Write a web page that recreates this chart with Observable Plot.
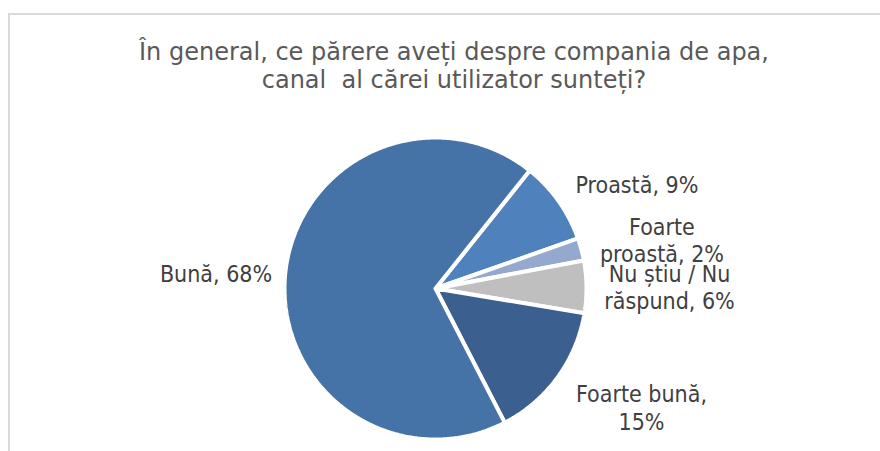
<!DOCTYPE html>
<html>
<head>
<meta charset="utf-8">
<script src="https://cdn.jsdelivr.net/npm/d3@7"></script>
<script src="https://cdn.jsdelivr.net/npm/@observablehq/plot@0.6"></script>
<style>
  html, body { margin: 0; padding: 0; background: #fff; }
  #wrap { position: relative; width: 880px; height: 451px; overflow: hidden; }
  #frame { position: absolute; left: 8px; top: 13px; width: 1000px; height: 1000px;
           border-left: 2px solid #d9d9d9; border-top: 2px solid #d9d9d9; box-sizing: border-box; }
  #title { position: absolute; left: 0; top: 38px; width: 908px; text-align: center;
           font-family: "DejaVu Sans", sans-serif; font-size: 24px;
           line-height: 28px; color: #595959; white-space: pre; }
  #chart { position: absolute; left: 0; top: 0; }
</style>
</head>
<body>
<div id="wrap">
  <div id="frame"></div>
  <div id="chart"></div>
  <div id="title"></div>
</div>
<script>
// ---- data ----
const titleLines = ["În general, ce părere aveți despre compania de apa,", "canal  al cărei utilizator sunteți?"];
const categories = ["Proastă", "Foarte proastă", "Nu știu / Nu răspund", "Foarte bună", "Bună"];
const shares = [8.9, 2.4, 5.6, 14.8, 68.3];
const labels = ["Proastă, 9%", "Foarte\nproastă, 2%", "Nu știu / Nu\nrăspund, 6%", "Foarte bună,\n15%", "Bună, 68%"];
const colors = ["#4F81BD", "#95A9CF", "#BFBFBF", "#3B5F8E", "#4573A7"];

// ---- layout ----
const W = 880, H = 451;
const cx = 435, cy = 288, R = 151;           // pie centre & radius in px
const startAngle = 38.6;                      // degrees clockwise from 12 o'clock
const labelRadius = [1.502, 1.534, 1.55, 1.575, 1.457];
const labelShift = [8, 2.9, 0.2, -6.1, -1.7]; // degrees

document.getElementById("title").textContent = titleLines.join("\n");

const total = d3.sum(shares);
const rad = a => a * Math.PI / 180;
const slicePts = [];
const labelPts = [];
let cum = 0;
categories.forEach((c, i) => {
  const a0 = startAngle + cum / total * 360;
  const a1 = a0 + shares[i] / total * 360;
  cum += shares[i];
  const n = Math.max(2, Math.ceil((a1 - a0) / 0.5));
  slicePts.push({cat: c, x: 0, y: 0});
  for (let k = 0; k <= n; k++) {
    const a = rad(a0 + (a1 - a0) * k / n);
    slicePts.push({cat: c, x: Math.sin(a), y: Math.cos(a)});
  }
  slicePts.push({cat: c, x: 0, y: 0});
  const am = rad((a0 + a1) / 2 + labelShift[i]);
  labelPts.push({cat: c, text: labels[i], x: labelRadius[i] * Math.sin(am), y: labelRadius[i] * Math.cos(am)});
});

const chart = Plot.plot({
  width: W, height: H,
  marginTop: 0, marginRight: 0, marginBottom: 0, marginLeft: 0,
  x: {domain: [-cx / R, (W - cx) / R], axis: null},
  y: {domain: [-(H - cy) / R, cy / R], axis: null},
  color: {domain: categories, range: colors},
  style: {background: "transparent", overflow: "visible"},
  marks: [
    Plot.line(slicePts, {x: "x", y: "y", z: "cat", fill: "cat", stroke: "white", strokeWidth: 4, strokeLinejoin: "miter", curve: "linear"}),
    Plot.text(labelPts, {x: "x", y: "y", text: "text", fill: "#404040", fontSize: 23,
      fontFamily: "DejaVu Sans Condensed, DejaVu Sans, sans-serif", lineHeight: 1.18, textAnchor: "middle"})
  ]
});
document.getElementById("chart").appendChild(chart);
</script>
</body>
</html>
